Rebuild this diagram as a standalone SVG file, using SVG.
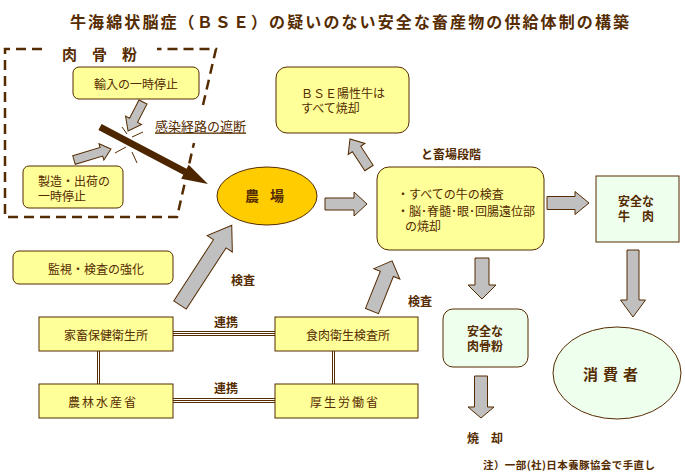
<svg xmlns="http://www.w3.org/2000/svg" width="685" height="475" viewBox="0 0 685 475">
<style>
text{font-family:"Noto Sans CJK JP","Noto Sans CJK SC",sans-serif;fill:#552b00;dominant-baseline:central}
.t12{font-size:12px}
.b12{font-size:12px;font-weight:bold}
.mid{text-anchor:middle}
.yel{fill:#ffff99;stroke:#552b00;stroke-width:1}
.grn{fill:#eeffee;stroke:#552b00;stroke-width:1}
.arr{fill:#c0c0c0;stroke:#552b00;stroke-width:1}
.ln{stroke:#552b00;stroke-width:1;fill:none}
</style>
<rect width="685" height="475" fill="#ffffff"/>
<text x="349.5" y="21" class="mid" font-size="16" font-weight="bold" textLength="559" lengthAdjust="spacing">牛海綿状脳症（ＢＳＥ）の疑いのない安全な畜産物の供給体制の構築</text>

<g id="mbm-frame">
<path d="M42,49 L5,49 L5,217 L177,217 L194,143 M203,105 L216,49 L157,49" fill="none" stroke="#552b00" stroke-width="2.5" stroke-dasharray="10,6"/>
<text x="62" y="53" font-size="15" font-weight="bold" letter-spacing="15">肉骨粉</text>
</g>

<g id="import-stop">
<rect x="73" y="67" width="126" height="32" rx="6" class="yel"/>
<text x="136" y="83" class="t12 mid">輸入の一時停止</text>
</g>

<g id="manufacture-stop">
<rect x="23" y="166" width="100" height="42" rx="6" class="yel"/>
<text x="38" y="180.5" class="t12">製造・出荷の</text>
<text x="38" y="195" class="t12">一時停止</text>
</g>

<g id="route-cut">
<text x="155" y="125" font-size="13" text-decoration="underline">感染経路の遮断</text>
<line x1="122" y1="127" x2="127" y2="134" class="ln"/>
<line x1="115" y1="153" x2="126" y2="147" class="ln"/>
<line x1="132" y1="152" x2="137" y2="163" class="ln"/>
<line x1="132" y1="137" x2="143" y2="132" class="ln"/>
</g>

<g id="farm">
<ellipse cx="267" cy="196" rx="50" ry="29" fill="#ffcc00" stroke="#552b00" stroke-width="1"/>
<text x="245" y="195" font-size="14" font-weight="bold" letter-spacing="11">農場</text>
</g>

<g id="bse-positive">
<rect x="276" y="67" width="133" height="66" rx="11" class="yel"/>
<text x="301" y="92" class="t12">ＢＳＥ陽性牛は</text>
<text x="301" y="107" class="t12">すべて焼却</text>
</g>

<text x="451" y="153" class="b12 mid">と畜場段階</text>

<g id="slaughterhouse">
<rect x="377" y="167" width="167" height="83" rx="12" class="yel"/>
<text x="397" y="193" class="t12">・すべての牛の検査</text>
<text x="397" y="210" class="t12">・脳･脊髄･眼･回腸遠位部</text>
<text x="405" y="225" class="t12">の焼却</text>
</g>

<g id="safe-beef">
<rect x="596" y="176" width="83" height="66" class="grn"/>
<text x="636" y="200" class="b12 mid">安全な</text>
<text x="636" y="215" class="b12 mid">牛　肉</text>
</g>

<g id="consumer">
<ellipse cx="617" cy="373" rx="64" ry="46" class="grn"/>
<text x="583" y="373" font-size="15" font-weight="bold" letter-spacing="5">消費者</text>
</g>

<g id="safe-mbm">
<rect x="443" y="309" width="85" height="58" rx="10" class="grn"/>
<text x="485" y="330" class="b12 mid">安全な</text>
<text x="485" y="345" class="b12 mid">肉骨粉</text>
</g>

<text x="485" y="437" class="b12 mid">焼　却</text>

<g id="surveillance">
<rect x="13" y="251" width="160" height="33" rx="6" class="yel"/>
<text x="96" y="268" class="t12 mid">監視・検査の強化</text>
</g>

<g id="livestock-hygiene">
<rect x="39" y="317" width="134" height="34" class="yel"/>
<text x="106" y="334" class="t12 mid">家畜保健衛生所</text>
</g>
<g id="meat-inspection">
<rect x="275" y="317" width="143" height="34" class="yel"/>
<text x="348" y="334" class="t12 mid">食肉衛生検査所</text>
</g>
<g id="maff">
<rect x="39" y="384" width="134" height="34" class="yel"/>
<text x="68" y="401" class="t12" letter-spacing="2">農林水産省</text>
</g>
<g id="mhlw">
<rect x="275" y="384" width="143" height="34" class="yel"/>
<text x="310" y="401" class="t12" letter-spacing="2">厚生労働省</text>
</g>

<g id="connectors">
<polygon class="arr" points="0,-4.5 20.6,-4.5 20.6,-9 32.6,0 20.6,9 20.6,4.5 0,4.5" transform="translate(143,102) rotate(117.3)"/>
<polygon class="arr" points="0,-4.5 28.6,-4.5 28.6,-8.5 38.6,0 28.6,8.5 28.6,4.5 0,4.5" transform="translate(74,160) rotate(-16.6)"/>
<polygon fill="#4d2600" points="0,-3.5 96,-3.5 96,-8 122,0 96,8 96,3.5 0,3.5" transform="translate(100,127) rotate(27.8)"/>
<polygon class="arr" points="0,-6 29,-6 29,-12 42,0 29,12 29,6 0,6" transform="translate(325,204)"/>
<polygon class="arr" points="0,-5 22.7,-5 22.7,-10 34.7,0 22.7,10 22.7,5 0,5" transform="translate(369,168) rotate(-123.2)"/>
<polygon class="arr" points="0,-6.5 28,-6.5 28,-11.5 42,0 28,11.5 28,6.5 0,6.5" transform="translate(547,203)"/>
<polygon class="arr" points="0,-6 50,-6 50,-12.5 67,0 50,12.5 50,6 0,6" transform="translate(633,250) rotate(90)"/>
<polygon class="arr" points="0,-7 27,-7 27,-14 41,0 27,14 27,7 0,7" transform="translate(482,258) rotate(90)"/>
<polygon class="arr" points="0,-6.5 31,-6.5 31,-13 42,0 31,13 31,6.5 0,6.5" transform="translate(481,376) rotate(90)"/>
<polygon class="arr" points="0,-7.5 73,-7.5 73,-15 95,0 73,15 73,7.5 0,7.5" transform="translate(180,305) rotate(-57)"/>
<polygon class="arr" points="0,-7 40,-7 40,-14 54,0 40,14 40,7 0,7" transform="translate(372,311) rotate(-68.2)"/>
<path class="ln" d="M173,331.5 H275 M173,333.5 H275 M173,335.5 H275"/>
<path class="ln" d="M173,398.5 H275 M173,400.5 H275 M173,402.5 H275"/>
<path class="ln" d="M97.5,351 V384 M99.5,351 V384"/>
<path class="ln" d="M332.5,351 V384 M334.5,351 V384"/>
<text x="226" y="321" class="b12 mid">連携</text>
<text x="226" y="387" class="b12 mid">連携</text>
<text x="243" y="279" class="b12 mid">検査</text>
<text x="420" y="300" class="b12 mid">検査</text>
</g>

<text x="483" y="464" font-size="10.5" font-weight="bold" textLength="172" lengthAdjust="spacing">注）一部(社)日本養豚協会で手直し</text>
</svg>
